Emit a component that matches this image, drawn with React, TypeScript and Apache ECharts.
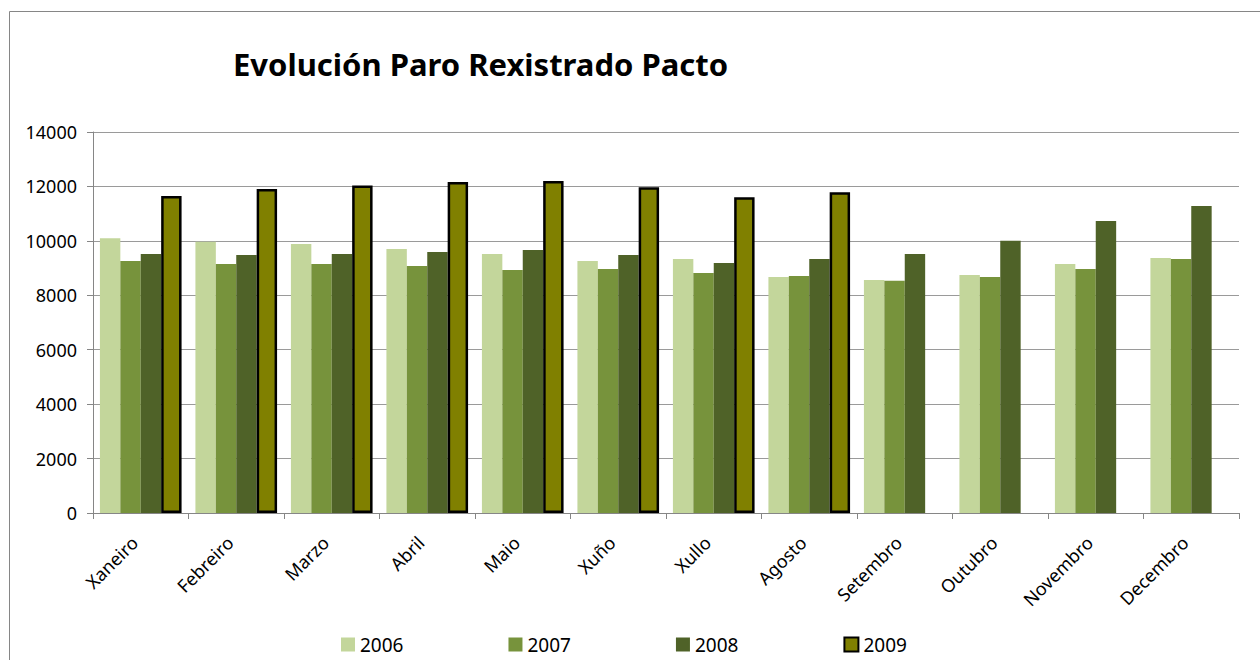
import React, { useEffect, useRef } from "react";
import * as echarts from "echarts";

const months = ["Xaneiro", "Febreiro", "Marzo", "Abril", "Maio", "Xuño", "Xullo", "Agosto", "Setembro", "Outubro", "Novembro", "Decembro"];
const years = ["2006", "2007", "2008", "2009"];
const v2006 = [10100, 9970, 9880, 9700, 9520, 9260, 9330, 8670, 8560, 8750, 9150, 9370];
const v2007 = [9260, 9150, 9150, 9080, 8930, 8970, 8820, 8710, 8530, 8670, 8970, 9330];
const v2008 = [9520, 9480, 9520, 9590, 9660, 9480, 9190, 9330, 9520, 10000, 10730, 11280];
const v2009 = [11650, 11910, 12030, 12160, 12200, 11970, 11600, 11790, null, null, null, null];
const yTicks = { min: 0, max: 14000, interval: 2000 };
const colors = ["#C3D69B", "#77933C", "#4F6228", "#808000"];

export default function App() {
  const ref = useRef<HTMLDivElement>(null);
  useEffect(() => {
    if (!ref.current) return;
    const chart = echarts.init(ref.current, null, { renderer: "svg" });
    const font = "'Noto Sans', sans-serif";
    const data = [v2006, v2007, v2008, v2009];
    chart.setOption({
      animation: false,
      backgroundColor: "#ffffff",
      title: {
        text: "Evolución Paro Rexistrado Pacto",
        left: 228,
        top: 43,
        textStyle: { fontFamily: font, fontWeight: "bold", fontSize: 31, color: "#000" },
      },
      graphic: [
        {
          type: "rect",
          shape: { x: 9.5, y: 11.5, width: 1300, height: 700 },
          style: { fill: "none", stroke: "#868686", lineWidth: 1 },
          silent: true,
        },
      ],
      legend: {
        left: 336,
        top: 630,
        itemWidth: 14,
        itemHeight: 14,
        itemGap: 105,
        textStyle: { fontFamily: font, fontSize: 19, color: "#000", padding: [0, 0, 0, 0] },
        data: years.map((y, i) =>
          i === 3
            ? { name: y, icon: "rect", itemStyle: { color: colors[3], borderColor: "#000", borderWidth: 2 } }
            : { name: y, icon: "rect", itemStyle: { borderWidth: 0 } }
        ),
      },
      grid: { left: 93, right: 21, top: 132, bottom: 147, containLabel: false },
      xAxis: {
        type: "category",
        data: months,
        boundaryGap: true,
        axisLine: { lineStyle: { color: "#868686", width: 1 } },
        axisTick: { show: true, length: 6, lineStyle: { color: "#868686" } },
        axisLabel: { rotate: 45, fontFamily: font, fontSize: 18, color: "#000", margin: 20, padding: [0, 9, 0, 0] },
      },
      yAxis: {
        type: "value",
        min: yTicks.min,
        max: yTicks.max,
        interval: yTicks.interval,
        axisLine: { show: true, lineStyle: { color: "#868686", width: 1 } },
        axisTick: { show: true, length: 6, lineStyle: { color: "#868686" } },
        axisLabel: { fontFamily: font, fontSize: 18, color: "#000", margin: 16, formatter: (v: number) => String(v) },
        splitLine: { lineStyle: { color: "#9a9a9a", width: 1 } },
      },
      series: years.map((y, i) => ({
        name: y,
        type: "bar",
        data: data[i],
        barGap: "0%",
        barCategoryGap: "14.5%",
        itemStyle:
          i === 3
            ? { color: colors[i], borderColor: "#000", borderWidth: 2.5 }
            : { color: colors[i] },
      })),
    });
    return () => chart.dispose();
  }, []);
  return (
    <div
      ref={ref}
      style={{ position: "fixed", left: 0, top: 0, width: 1260, height: 660 }}
    />
  );
}
